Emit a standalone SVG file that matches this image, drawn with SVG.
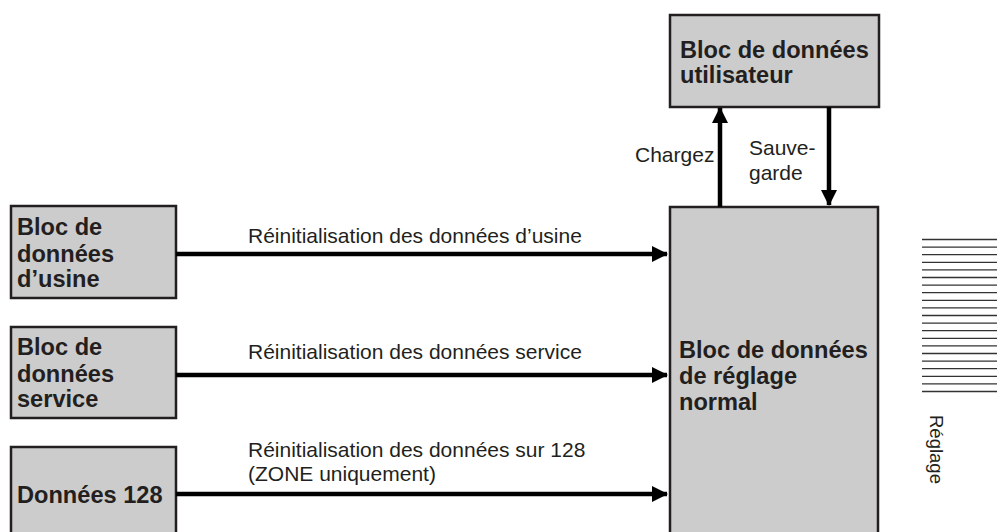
<svg xmlns="http://www.w3.org/2000/svg" width="997" height="532" viewBox="0 0 997 532">
<style>
.box{fill:#cccccc;stroke:#231f20;stroke-width:2.5}
.b{font-family:"Liberation Sans",Arial,sans-serif;font-weight:bold;font-size:23.6px;fill:#231f20}
.r{font-family:"Liberation Sans",Arial,sans-serif;font-size:21px;fill:#231f20}
.ln{stroke:#000;stroke-width:4.5;fill:none}
.h{stroke:#333;stroke-width:1.3}
</style>
<defs>
<marker id="ah" markerWidth="16" markerHeight="16" viewBox="0 0 16 16" refX="15" refY="8" orient="auto" markerUnits="userSpaceOnUse">
<path d="M0,0 L16,8 L0,16 Z" fill="#000"/>
</marker>
</defs>
<rect width="997" height="532" fill="#fff"/>
<g id="user">
<rect class="box" x="670" y="15" width="209" height="92"/>
<text class="b" x="680" y="58">Bloc de données</text>
<text class="b" x="680" y="83">utilisateur</text>
</g>
<g id="normal">
<rect class="box" x="670" y="207" width="208" height="335"/>
<text class="b" x="679" y="358">Bloc de données</text>
<text class="b" x="679" y="384">de réglage</text>
<text class="b" x="679" y="410">normal</text>
</g>
<g id="usine">
<rect class="box" x="11" y="206" width="165" height="92"/>
<text class="b" x="17" y="235">Bloc de</text>
<text class="b" x="17" y="262">données</text>
<text class="b" x="17" y="287">d’usine</text>
</g>
<g id="service">
<rect class="box" x="11" y="327" width="165" height="91"/>
<text class="b" x="17" y="355">Bloc de</text>
<text class="b" x="17" y="382">données</text>
<text class="b" x="17" y="407">service</text>
</g>
<g id="d128">
<rect class="box" x="11" y="447" width="165" height="95"/>
<text class="b" x="17" y="503">Données 128</text>
</g>
<g id="connectors">
<line class="ln" x1="176" y1="254" x2="667" y2="254" marker-end="url(#ah)"/>
<line class="ln" x1="176" y1="375" x2="667" y2="375" marker-end="url(#ah)"/>
<line class="ln" x1="176" y1="494" x2="667" y2="494" marker-end="url(#ah)"/>
<line class="ln" x1="720" y1="207" x2="720" y2="108" marker-end="url(#ah)"/>
<line class="ln" x1="829" y1="107" x2="829" y2="205" marker-end="url(#ah)"/>
<text class="r" x="248" y="243">Réinitialisation des données d’usine</text>
<text class="r" x="248" y="359">Réinitialisation des données service</text>
<text class="r" x="248" y="457">Réinitialisation des données sur 128</text>
<text class="r" x="248" y="481">(ZONE uniquement)</text>
<text class="r" x="635" y="162">Chargez</text>
<text class="r" x="749" y="155">Sauve-</text>
<text class="r" x="749" y="180">garde</text>
</g>
<g id="reglage">
<g class="h">
<line x1="922" y1="239.5" x2="997" y2="239.5"/>
<line x1="922" y1="247.1" x2="997" y2="247.1"/>
<line x1="922" y1="254.7" x2="997" y2="254.7"/>
<line x1="922" y1="262.3" x2="997" y2="262.3"/>
<line x1="922" y1="269.9" x2="997" y2="269.9"/>
<line x1="922" y1="277.5" x2="997" y2="277.5"/>
<line x1="922" y1="285.1" x2="997" y2="285.1"/>
<line x1="922" y1="292.7" x2="997" y2="292.7"/>
<line x1="922" y1="300.3" x2="997" y2="300.3"/>
<line x1="922" y1="307.9" x2="997" y2="307.9"/>
<line x1="922" y1="315.5" x2="997" y2="315.5"/>
<line x1="922" y1="323.1" x2="997" y2="323.1"/>
<line x1="922" y1="330.7" x2="997" y2="330.7"/>
<line x1="922" y1="338.3" x2="997" y2="338.3"/>
<line x1="922" y1="345.9" x2="997" y2="345.9"/>
<line x1="922" y1="353.5" x2="997" y2="353.5"/>
<line x1="922" y1="361.1" x2="997" y2="361.1"/>
<line x1="922" y1="368.7" x2="997" y2="368.7"/>
<line x1="922" y1="376.3" x2="997" y2="376.3"/>
<line x1="922" y1="383.9" x2="997" y2="383.9"/>
<line x1="922" y1="391.5" x2="997" y2="391.5"/>
</g>
<text class="r" style="font-size:18.5px" transform="translate(930,415) rotate(90)">Réglage</text>
</g>
</svg>
